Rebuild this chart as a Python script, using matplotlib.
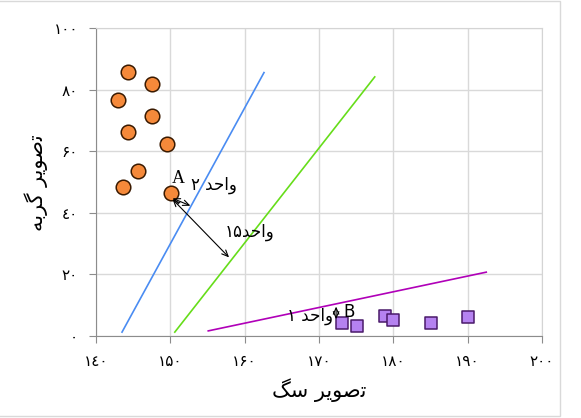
import matplotlib
matplotlib.use("Agg")
import matplotlib.pyplot as plt
from matplotlib.patches import Rectangle

# ---- data ----
cat_x = [144.3, 147.5, 143.0, 147.5, 144.3, 149.5, 145.6, 143.6, 150.1]
cat_y = [85.6, 81.9, 76.6, 71.4, 66.1, 62.4, 53.6, 48.4, 46.5]
dog_x = [173.1, 175.1, 178.9, 180.0, 185.0, 190.0]
dog_y = [4.2, 3.2, 6.2, 5.0, 4.2, 6.1]

blue_x = [143.5, 162.6]
blue_y = [1.1, 85.5]
green_x = [150.6, 177.5]
green_y = [1.1, 84.1]
purple_x = [155.1, 192.5]
purple_y = [1.5, 20.6]

x_ticks = [140, 150, 160, 170, 180, 190, 200]
y_ticks = [0, 20, 40, 60, 80, 100]

# Persian / Arabic-indic digits
DIG = "\u06F0\u06F1\u06F2\u06F3\u0664\u06F5\u06F6\u06F7\u06F8\u06F9"
def fa(n):
    return "".join(DIG[int(c)] for c in str(n))

# texts in visual order with Arabic presentation forms
x_label = "\uFB93\uFEB3 \uFEAE\uFEF3\uFEEE\uFEBB\uFE97"                  # تصویر سگ
y_label = "\uFEEA\uFE91\uFEAE\uFB94 \uFEAE\uFEF3\uFEEE\uFEBB\uFE97"      # تصویر گربه
vahed = "\uFEAA\uFEA3\uFE8D\uFEED"                                       # واحد
txt2 = fa(2) + " " + vahed
txt15 = fa(15) + vahed
txt1 = fa(1) + " " + vahed

fig = plt.figure(figsize=(5.81, 4.18), dpi=100)
ax = fig.add_axes([96/581, 1-335.5/418, (542-96)/581, (335.5-28)/418])

ax.set_xlim(140, 200)
ax.set_ylim(0, 100)
ax.set_xticks(x_ticks)
ax.set_yticks(y_ticks)
ax.set_xticklabels([fa(v) for v in x_ticks], fontsize=11, family="DejaVu Sans")
ax.set_yticklabels([fa(v) for v in y_ticks], fontsize=11, family="DejaVu Sans")
ax.grid(True, color="#d9d9d9", lw=1)
ax.set_axisbelow(True)
for s in ["left", "bottom"]:
    ax.spines[s].set_color("#8c8c8c")
for s in ["top", "right"]:
    ax.spines[s].set_color("#d4d4d4")
ax.tick_params(axis="both", length=5, color="#8c8c8c", pad=8)

ax.plot(blue_x, blue_y, color="#4a8cf2", lw=1.2)
ax.plot(green_x, green_y, color="#66dd1a", lw=1.2)
ax.plot(purple_x, purple_y, color="#b000b8", lw=1.2)

ax.scatter(cat_x, cat_y, s=110, marker="o", facecolor="#f5893a", edgecolor="#3a1a00", lw=1.1, zorder=3)
ax.scatter(dog_x, dog_y, s=80, marker="s", facecolor="#b582f0", edgecolor="#4a1a6a", lw=1.1, zorder=3)

arr = dict(arrowstyle="<->,head_length=0.45,head_width=0.2", color="black", lw=0.8, shrinkA=0, shrinkB=0)
ax.annotate("", xy=(152.7, 42.2), xytext=(150.3, 44.6), arrowprops=arr)
ax.annotate("", xy=(157.9, 25.4), xytext=(150.3, 44.3), arrowprops=arr)
ax.annotate("", xy=(172.3, 5.3), xytext=(172.3, 9.4), arrowprops=arr)

ax.text(151.1, 51.1, "A", fontsize=13, family="Liberation Serif", ha="center", va="center")
ax.text(155.9, 48.9, txt2, fontsize=12, family="DejaVu Sans", ha="center", va="center")
ax.text(160.7, 33.7, txt15, fontsize=12, family="DejaVu Sans", ha="center", va="center")
ax.text(174.1, 7.8, "B", fontsize=12, family="DejaVu Sans", ha="center", va="center")
ax.text(168.8, 6.5, txt1, fontsize=12, family="DejaVu Sans", ha="center", va="center")

fig.text(319/581, 1-390/418, x_label, fontsize=15, family="DejaVu Sans", ha="center", va="center")
fig.text(36/581, 1-183/418, y_label, fontsize=15, family="DejaVu Sans", ha="center", va="center", rotation=90)

fig.add_artist(Rectangle((-0.01, 1-416/418), 560/581 + 0.01, 415/418,
                         transform=fig.transFigure, fill=False, edgecolor="#d9d9d9", lw=1))

fig.savefig("out.png", dpi=100)
